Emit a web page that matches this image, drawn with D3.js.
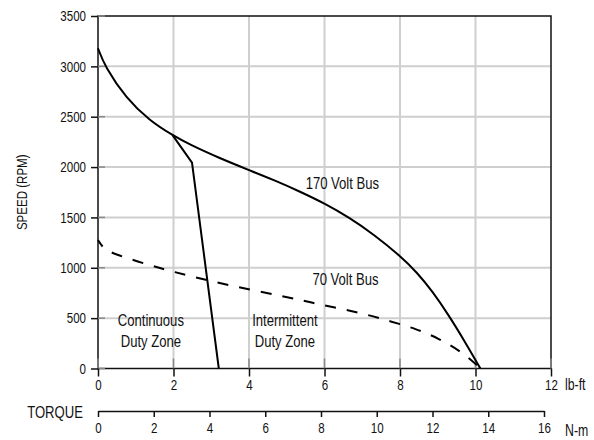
<!DOCTYPE html>
<html>
<head>
<meta charset="utf-8">
<script src="https://cdn.jsdelivr.net/npm/d3@7"></script>
<style>
  body { margin: 0; background: #fff; }
  svg { display: block; }
  text { font-family: "Liberation Sans", Arial, sans-serif; fill: #111; }
</style>
</head>
<body>
<div id="chart"></div>
<script>
// --- data (torque in lb-ft, speed in RPM) ---
const bus170 = [
  [0, 3180], [0.18, 3000], [0.75, 2680], [1.37, 2460], [1.98, 2315],
  [2.42, 2225], [3.21, 2090], [4.0, 1970], [4.7, 1865], [5.33, 1760],
  [6.0, 1640], [6.65, 1500], [7.31, 1330], [8.0, 1120], [8.46, 950],
  [8.85, 770], [9.29, 530], [9.73, 260], [10.13, 0]
];
const bus70 = [
  [0, 1275], [0.15, 1186], [0.48, 1130], [1.37, 1025], [1.98, 962],
  [2.95, 870], [4.0, 785], [5.0, 710], [5.68, 652], [6.39, 596],
  [7.09, 540], [7.79, 463], [8.41, 397], [9.03, 298], [9.64, 165],
  [10.08, 20], [10.12, 0]
];
const continuousLimit = [[1.97, 2320], [2.49, 2044], [3.2, 0]];

const lbftTicks = [0, 2, 4, 6, 8, 10, 12];
const nmTicks = [0, 2, 4, 6, 8, 10, 12, 14, 16];
const speedTicks = [0, 500, 1000, 1500, 2000, 2500, 3000, 3500];

const labels = [
  { text: "170 Volt Bus", x: 5.5, y: 1840, anchor: "start" },
  { text: "70 Volt Bus", x: 5.68, y: 890, anchor: "start" },
  { text: "Continuous", x: 1.4, y: 478, anchor: "middle" },
  { text: "Duty Zone", x: 1.4, y: 272, anchor: "middle" },
  { text: "Intermittent", x: 4.95, y: 478, anchor: "middle" },
  { text: "Duty Zone", x: 4.95, y: 272, anchor: "middle" }
];

// --- layout ---
const W = 594, H = 440;
const mLeft = 98, mRight = 551, mTop = 16, mBottom = 368.5;
const axis2Y = 411;
const SQ = 0.77; // condensed face

const svg = d3.select("#chart").append("svg").attr("width", W).attr("height", H);

const x = d3.scaleLinear().domain([0, 12]).range([mLeft, mRight]);
const xNm = d3.scaleLinear().domain([0, 16]).range([mLeft, 544]);
const y = d3.scaleLinear().domain([0, 3500]).range([mBottom, mTop]);

function squeeze(sel) {
  sel.each(function () {
    const t = d3.select(this);
    const tx = +t.attr("x") || 0, ty = +t.attr("y") || 0;
    t.attr("x", null).attr("y", null)
     .attr("transform", `translate(${tx},${ty}) scale(${SQ},1)`);
  });
}

function label(txt, px, py, size, anchor) {
  return svg.append("text")
    .attr("transform", `translate(${px},${py}) scale(${SQ},1)`)
    .attr("text-anchor", anchor)
    .attr("dy", "0.35em")
    .style("font-size", size + "px")
    .text(txt);
}

// grid
svg.append("g").selectAll("line").data(lbftTicks.slice(1, -1)).join("line")
  .attr("x1", d => x(d)).attr("x2", d => x(d))
  .attr("y1", mTop).attr("y2", mBottom)
  .attr("stroke", "#cfcfcf").attr("stroke-width", 2);
svg.append("g").selectAll("line").data(speedTicks.slice(1, -1)).join("line")
  .attr("x1", mLeft).attr("x2", mRight)
  .attr("y1", d => y(d)).attr("y2", d => y(d))
  .attr("stroke", "#cfcfcf").attr("stroke-width", 2);

// frame
svg.append("rect")
  .attr("x", mLeft).attr("y", mTop)
  .attr("width", mRight - mLeft).attr("height", mBottom - mTop)
  .attr("fill", "none").attr("stroke", "#111").attr("stroke-width", 1.5);

// inner tick marks
svg.append("g").selectAll("line").data(speedTicks).join("line")
  .attr("x1", mLeft).attr("x2", mLeft + 7)
  .attr("y1", d => y(d)).attr("y2", d => y(d))
  .attr("stroke", "#888").attr("stroke-width", 1.5);
svg.append("g").selectAll("line").data(lbftTicks).join("line")
  .attr("x1", d => x(d)).attr("x2", d => x(d))
  .attr("y1", mBottom).attr("y2", mBottom - 10)
  .attr("stroke", "#888").attr("stroke-width", 1.5);

// axes
const fmt = d3.format("d");
const yAxis = svg.append("g")
  .attr("transform", `translate(${mLeft},0)`)
  .call(d3.axisLeft(y).tickValues(speedTicks).tickFormat(fmt)
    .tickSize(7).tickPadding(5).tickSizeOuter(0));
const xAxis = svg.append("g")
  .attr("transform", `translate(0,${mBottom})`)
  .call(d3.axisBottom(x).tickValues(lbftTicks).tickFormat(fmt)
    .tickSize(8).tickPadding(3).tickSizeOuter(0));
const xAxis2 = svg.append("g")
  .attr("transform", `translate(0,${axis2Y})`)
  .call(d3.axisBottom(xNm).tickValues(nmTicks).tickFormat(fmt)
    .tickSize(6).tickPadding(5).tickSizeOuter(0));

[yAxis, xAxis, xAxis2].forEach(g => {
  g.select(".domain").attr("stroke", "#111").attr("stroke-width", 1.5);
  g.selectAll(".tick line").attr("stroke", "#111").attr("stroke-width", 1.5);
  g.selectAll("text").style("font-size", "15px").attr("fill", "#111");
  squeeze(g.selectAll("text"));
});
xAxis.select(".domain").remove();
yAxis.select(".domain").remove();

// axis titles
label("SPEED (RPM)", 0, 0, 15, "middle")
  .attr("transform", `translate(22,${(mTop + mBottom) / 2}) rotate(-90) scale(${SQ},1)`);
label("lb-ft", 565, mBottom + 16, 16, "start");
label("N-m", 565, axis2Y + 19, 16, "start");
label("TORQUE", 55, axis2Y + 1, 17, "middle");

// curves
const line = d3.line().x(d => x(d[0])).y(d => y(d[1])).curve(d3.curveBasis);

svg.append("path").datum(bus170).attr("d", line)
  .attr("fill", "none").attr("stroke", "#000").attr("stroke-width", 2);
svg.append("path").datum(bus70).attr("d", line)
  .attr("fill", "none").attr("stroke", "#000").attr("stroke-width", 2)
  .attr("stroke-dasharray", "11,11").attr("stroke-dashoffset", 3);
svg.append("path").datum(continuousLimit)
  .attr("d", d3.line().x(d => x(d[0])).y(d => y(d[1])))
  .attr("fill", "none").attr("stroke", "#000").attr("stroke-width", 2);

// annotations
labels.forEach(l => label(l.text, x(l.x), y(l.y), 17, l.anchor));
</script>
</body>
</html>
